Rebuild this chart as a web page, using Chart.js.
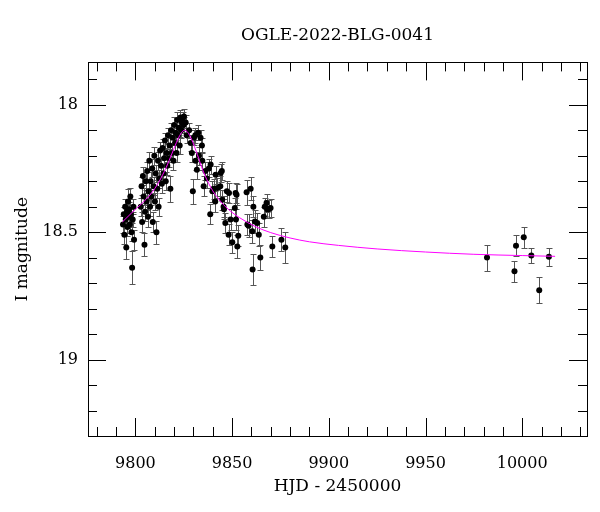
<!DOCTYPE html>
<html>
<head>
<meta charset="utf-8">
<script src="https://cdn.jsdelivr.net/npm/chart.js@4"></script>
<style>
  html, body { margin: 0; padding: 0; background: #fff; }
  #wrap { width: 600px; height: 512px; }
</style>
</head>
<body>
<div id="wrap"><canvas id="lc" width="600" height="512"></canvas></div>
<script>
// OGLE photometry (HJD - 2450000, I mag, error)
const hjd = [
    9793.6, 9794.0, 9794.3, 9794.7, 9795.0, 9795.3, 9795.6, 9795.9, 9796.2, 9796.5,
    9796.8, 9797.1, 9797.4, 9797.7, 9798.0, 9798.3, 9798.6, 9799.0, 9799.3,
    9802.8, 9803.2, 9803.5, 9803.9, 9804.3, 9804.7, 9805.0, 9805.4, 9805.8, 9806.1,
    9806.5, 9806.8, 9807.2, 9807.6, 9807.9, 9808.3, 9808.7, 9809.0, 9809.4, 9809.8,
    9810.1, 9810.5, 9810.9, 9811.3, 9811.7, 9812.0, 9812.4, 9812.8,
    9813.3, 9813.7, 9814.1, 9814.5, 9814.9, 9815.3, 9815.7, 9816.1, 9816.5, 9816.9,
    9817.3, 9817.7, 9818.1, 9818.5, 9818.9, 9819.3, 9819.7, 9820.1, 9820.5, 9820.9,
    9821.3, 9821.7, 9822.1, 9822.5, 9822.9, 9823.3, 9823.7, 9824.1, 9824.5, 9824.9, 9825.1,
    9826.0, 9826.5, 9827.8, 9828.6, 9829.2, 9829.7, 9830.3, 9831.0, 9831.1, 9831.8,
    9832.5, 9832.9, 9833.7, 9834.4, 9834.6, 9835.3, 9836.2, 9837.0, 9838.0, 9838.7,
    9838.9, 9839.8, 9840.4, 9841.3, 9841.5, 9842.4, 9843.9, 9844.1, 9844.7, 9844.9,
    9845.6, 9845.8, 9846.5, 9847.3, 9848.2, 9848.4, 9849.2, 9850.1, 9851.4, 9851.8,
    9852.0, 9852.3, 9852.7, 9853.2, 9857.5, 9857.9, 9858.5, 9859.6, 9860.4, 9860.6,
    9861.0, 9861.8, 9863.0, 9863.8, 9864.6, 9866.4, 9866.9, 9867.8, 9868.2, 9869.0,
    9869.9, 9870.8, 9875.5, 9877.5,
    9981.8, 9996.0, 9996.8, 10000.8, 10004.7, 10008.8, 10013.8
];
const mag = [
    18.47, 18.43, 18.51, 18.40, 18.45, 18.56, 18.42, 18.48, 18.38, 18.44,
    18.41, 18.47, 18.36, 18.43, 18.50, 18.64, 18.45, 18.40, 18.53,
    18.40, 18.32, 18.46, 18.28, 18.36, 18.55, 18.42, 18.30, 18.38, 18.26,
    18.44, 18.34, 18.22, 18.40, 18.30, 18.36, 18.25, 18.46, 18.32, 18.20,
    18.38, 18.27, 18.50, 18.33, 18.22, 18.40, 18.29, 18.18,
    18.24, 18.31, 18.17, 18.27, 18.21, 18.14, 18.30, 18.19, 18.24, 18.12,
    18.21, 18.16, 18.33, 18.10, 18.19, 18.13, 18.22, 18.08, 18.15, 18.11,
    18.19, 18.06, 18.12, 18.09, 18.16, 18.05, 18.10, 18.07, 18.06, 18.08, 18.046,
    18.07, 18.12, 18.10, 18.15, 18.19, 18.34, 18.13, 18.12, 18.22, 18.255,
    18.11, 18.20, 18.13, 18.16, 18.22, 18.32, 18.26, 18.29, 18.25, 18.43,
    18.235, 18.34, 18.33, 18.38, 18.275, 18.327, 18.32, 18.268, 18.26, 18.373,
    18.40, 18.41, 18.464, 18.34, 18.51, 18.346, 18.45, 18.54, 18.405, 18.346,
    18.45, 18.353, 18.556, 18.514, 18.344, 18.47, 18.475, 18.33, 18.497, 18.647,
    18.40, 18.458, 18.464, 18.51, 18.60, 18.44, 18.40, 18.386, 18.41, 18.41,
    18.405, 18.556, 18.53, 18.56,
    18.600, 18.654, 18.553, 18.520, 18.592, 18.728, 18.597
];
const magErr = [
    0.035, 0.03, 0.035, 0.03, 0.03, 0.045, 0.03, 0.035, 0.05, 0.03,
    0.03, 0.035, 0.035, 0.03, 0.035, 0.065, 0.03, 0.03, 0.04,
    0.035, 0.035, 0.04, 0.035, 0.035, 0.045, 0.035, 0.035, 0.035, 0.035,
    0.04, 0.035, 0.035, 0.035, 0.035, 0.035, 0.035, 0.04, 0.035, 0.035,
    0.035, 0.035, 0.045, 0.035, 0.035, 0.035, 0.035, 0.035,
    0.035, 0.035, 0.035, 0.035, 0.035, 0.03, 0.035, 0.035, 0.035, 0.03,
    0.035, 0.03, 0.05, 0.03, 0.035, 0.03, 0.035, 0.03, 0.03, 0.03,
    0.035, 0.03, 0.03, 0.03, 0.035, 0.03, 0.03, 0.03, 0.03, 0.03, 0.03,
    0.03, 0.03, 0.03, 0.03, 0.035, 0.05, 0.03, 0.03, 0.035, 0.035,
    0.03, 0.035, 0.03, 0.03, 0.035, 0.04, 0.035, 0.035, 0.035, 0.04,
    0.035, 0.04, 0.04, 0.04, 0.035, 0.04, 0.04, 0.035, 0.035, 0.04,
    0.04, 0.04, 0.04, 0.04, 0.04, 0.04, 0.04, 0.04, 0.04, 0.04,
    0.04, 0.04, 0.045, 0.04, 0.05, 0.04, 0.045, 0.045, 0.045, 0.06,
    0.04, 0.045, 0.04, 0.045, 0.05, 0.04, 0.035, 0.035, 0.035, 0.035,
    0.035, 0.04, 0.045, 0.06,
    0.051, 0.04, 0.04, 0.041, 0.03, 0.052, 0.035
];

// point-lens model
const modelHjd = [
    9793.3, 9798, 9803, 9808, 9812, 9816, 9819, 9822, 9824, 9825.5, 9827, 9829,
    9832, 9835, 9839, 9843, 9848, 9854, 9862, 9870, 9880, 9890, 9905, 9925,
    9950, 9975, 10000, 10017
];
const modelMag = [
    18.46, 18.425, 18.39, 18.35, 18.305, 18.245, 18.19, 18.135, 18.108, 18.10, 18.108, 18.135,
    18.195, 18.26, 18.325, 18.37, 18.41, 18.444, 18.478, 18.502, 18.523, 18.538, 18.552, 18.566,
    18.578, 18.587, 18.592, 18.595
];

const xTicks = [9800, 9850, 9900, 9950, 10000];
const yTicks = [18, 18.5, 19];
const xRange = [9775.5, 10033.5];
const yRange = [17.834, 19.3];

const serif = 'DejaVu Serif';

const errorBars = {
    id: 'errorBars',
    beforeDatasetsDraw(chart) {
        const { ctx, scales: { x, y } } = chart;
        ctx.save();
        ctx.strokeStyle = '#555';
        ctx.lineWidth = 1;
        ctx.beginPath();
        hjd.forEach((t, i) => {
            const px = Math.round(x.getPixelForValue(t)) + 0.5;
            const top = Math.round(y.getPixelForValue(mag[i] - magErr[i])) + 0.5;
            const bot = Math.round(y.getPixelForValue(mag[i] + magErr[i])) + 0.5;
            ctx.moveTo(px, top); ctx.lineTo(px, bot);
            ctx.moveTo(px - 3, top); ctx.lineTo(px + 3, top);
            ctx.moveTo(px - 3, bot); ctx.lineTo(px + 3, bot);
        });
        ctx.stroke();
        ctx.restore();
    }
};

// box with inward ticks on all four sides
const frame = {
    id: 'frame',
    afterDatasetsDraw(chart) {
        const { ctx, chartArea: a, scales: { x, y } } = chart;
        ctx.save();
        ctx.strokeStyle = '#000';
        ctx.lineWidth = 1;
        ctx.beginPath();
        for (let v = Math.ceil(x.min / 10) * 10; v <= x.max; v += 10) {
            const px = Math.round(x.getPixelForValue(v)) + 0.5;
            const len = v % 50 === 0 ? 18 : 9;
            ctx.moveTo(px, a.bottom); ctx.lineTo(px, a.bottom - len);
            ctx.moveTo(px, a.top); ctx.lineTo(px, a.top + len);
        }
        for (let i = Math.ceil(y.min * 10); i <= Math.floor(y.max * 10); i++) {
            const py = Math.round(y.getPixelForValue(i / 10)) + 0.5;
            const len = i % 5 === 0 ? 18 : 9;
            ctx.moveTo(a.left, py); ctx.lineTo(a.left + len, py);
            ctx.moveTo(a.right, py); ctx.lineTo(a.right - len, py);
        }
        ctx.stroke();
        ctx.strokeRect(Math.round(a.left) + 0.5, Math.round(a.top) + 0.5,
            Math.round(a.right - a.left), Math.round(a.bottom - a.top));
        ctx.restore();
    }
};

const ctx = document.getElementById('lc').getContext('2d');
new Chart(ctx, {
    type: 'scatter',
    data: {
        datasets: [
            {
                label: 'model',
                data: modelHjd.map((t, i) => ({ x: t, y: modelMag[i] })),
                showLine: true,
                cubicInterpolationMode: 'monotone',
                pointRadius: 0,
                borderColor: '#ff00ff',
                borderWidth: 1
            },
            {
                label: 'OGLE',
                data: hjd.map((t, i) => ({ x: t, y: mag[i] })),
                pointRadius: 3,
                pointBorderWidth: 0,
                backgroundColor: '#000',
                borderColor: '#000'
            }
        ]
    },
    options: {
        responsive: false,
        animation: false,
        devicePixelRatio: 1,
        layout: { padding: { top: 0, right: 13, bottom: 0, left: 0 } },
        plugins: {
            legend: { display: false },
            tooltip: { enabled: false },
            title: {
                display: true,
                fullSize: false,
                text: 'OGLE-2022-BLG-0041',
                color: '#000',
                font: { family: serif, size: 17, weight: 'normal' },
                padding: { top: 25, bottom: 17 }
            }
        },
        scales: {
            x: {
                type: 'linear',
                min: xRange[0],
                max: xRange[1],
                grid: { display: false, drawTicks: false },
                border: { display: false },
                afterBuildTicks: s => { s.ticks = xTicks.map(v => ({ value: v })); },
                afterFit: s => { s.height = 76; },
                ticks: {
                    color: '#000',
                    font: { family: serif, size: 16 },
                    padding: 18,
                    maxRotation: 0,
                    callback: v => String(v)
                },
                title: {
                    display: true,
                    text: 'HJD - 2450000',
                    color: '#000',
                    font: { family: serif, size: 17 },
                    padding: { top: 0, bottom: 15 }
                }
            },
            y: {
                type: 'linear',
                reverse: true,
                min: yRange[0],
                max: yRange[1],
                grid: { display: false, drawTicks: false },
                border: { display: false },
                afterBuildTicks: s => { s.ticks = yTicks.map(v => ({ value: v })); },
                afterFit: s => { s.width = 88; },
                ticks: {
                    color: '#000',
                    font: { family: serif, size: 16 },
                    padding: 10,
                    callback: v => String(v)
                },
                title: {
                    display: true,
                    text: 'I magnitude',
                    color: '#000',
                    font: { family: serif, size: 17 },
                    padding: { top: 12, bottom: 0 }
                }
            }
        }
    },
    plugins: [errorBars, frame]
});
</script>
</body>
</html>
